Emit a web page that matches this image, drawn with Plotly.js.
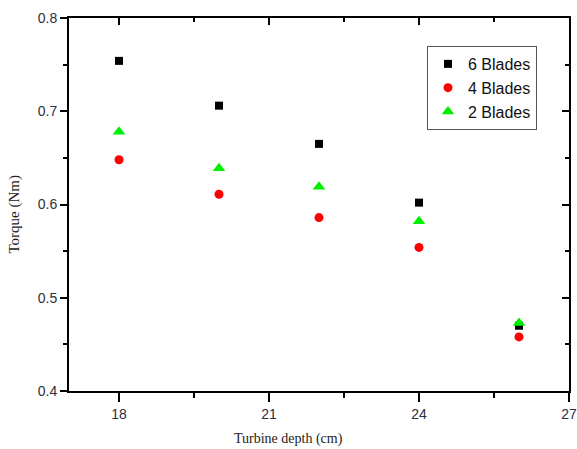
<!DOCTYPE html>
<html>
<head>
<meta charset="utf-8">
<script src="https://cdn.plot.ly/plotly-3.0.1.min.js"></script>
<style>html,body{margin:0;padding:0;background:#fff;}#chart{width:577px;height:449px;}</style>
</head>
<body>
<div id="chart"></div>
<script>
const depth = [18, 20, 22, 24, 26];
const blades6 = [0.754, 0.706, 0.665, 0.602, 0.470];
const blades4 = [0.648, 0.611, 0.586, 0.554, 0.458];
const blades2 = [0.678, 0.639, 0.619, 0.582, 0.473];
const seriesNames = ['6 Blades', '4 Blades', '2 Blades'];
const xTicks = [18, 21, 24, 27];
const yTicks = [0.4, 0.5, 0.6, 0.7, 0.8];
const xTitle = 'Turbine depth (cm)';
const yTitle = 'Torque (Nm)';

const tickFont = {family: 'Liberation Sans, Arial, sans-serif', size: 14, color: '#2e2e3c'};
const titleFont = {family: 'Liberation Serif, Times New Roman, serif', size: 14, color: '#222'};

const traces = [
  {x: depth, y: blades6, name: seriesNames[0], type: 'scatter', mode: 'markers',
   marker: {symbol: 'square', size: 8, color: '#000000'}},
  {x: depth, y: blades4, name: seriesNames[1], type: 'scatter', mode: 'markers',
   marker: {symbol: 'circle', size: 9, color: '#ff0000'}},
  {x: depth, y: blades2, name: seriesNames[2], type: 'scatter', mode: 'markers',
   marker: {symbol: 'triangle-up', size: 11, color: '#00ee00'}},
  {x: depth, y: blades6, xaxis: 'x2', yaxis: 'y2', type: 'scatter', mode: 'markers',
   marker: {opacity: 0}, showlegend: false, hoverinfo: 'skip'}
];

const minorX = [19.5, 22.5, 25.5];
const minorY = [0.45, 0.55, 0.65, 0.75];

const layout = {
  width: 577, height: 449,
  margin: {l: 69, r: 8, t: 18, b: 58},
  paper_bgcolor: '#ffffff', plot_bgcolor: '#ffffff',
  showlegend: true,
  legend: {x: 0.716, y: 0.925, xanchor: 'left', yanchor: 'top',
    bgcolor: '#ffffff', bordercolor: '#555555', borderwidth: 1,
    font: {family: 'Liberation Sans, Arial, sans-serif', size: 16, color: '#111'},
    itemwidth: 30, tracegroupgap: 0},
  xaxis: {range: [17, 27], tickvals: xTicks, ticktext: xTicks.map(String),
    showgrid: false, zeroline: false, showline: true, linecolor: '#000', linewidth: 2,
    ticks: 'outside', ticklen: 9, tickwidth: 2, tickcolor: '#000',
    minor: {tickvals: minorX, ticks: 'outside', ticklen: 5, tickwidth: 2, tickcolor: '#000', showgrid: false},
    tickfont: tickFont},
  yaxis: {range: [0.4, 0.8], tickvals: yTicks, ticktext: yTicks.map(v => v.toFixed(1)),
    showgrid: false, zeroline: false, showline: true, linecolor: '#000', linewidth: 2,
    ticks: 'outside', ticklen: 7, tickwidth: 2, tickcolor: '#000',
    minor: {tickvals: minorY, ticks: 'outside', ticklen: 4, tickwidth: 2, tickcolor: '#000', showgrid: false},
    tickfont: tickFont},
  xaxis2: {overlaying: 'x', side: 'top', anchor: 'y2', range: [17, 27], tickvals: xTicks,
    showticklabels: false, showgrid: false, zeroline: false, showline: true, linecolor: '#000', linewidth: 2,
    ticks: 'inside', ticklen: 7, tickwidth: 2, tickcolor: '#000',
    minor: {tickvals: minorX, ticks: 'inside', ticklen: 4, tickwidth: 2, tickcolor: '#000', showgrid: false}},
  yaxis2: {overlaying: 'y', side: 'right', anchor: 'x2', range: [0.4, 0.8], tickvals: yTicks,
    showticklabels: false, showgrid: false, zeroline: false, showline: true, linecolor: '#000', linewidth: 2,
    ticks: 'inside', ticklen: 7, tickwidth: 2, tickcolor: '#000',
    minor: {tickvals: minorY, ticks: 'inside', ticklen: 4, tickwidth: 2, tickcolor: '#000', showgrid: false}},
  annotations: [
    {text: xTitle, xref: 'paper', yref: 'paper', x: 0.438, y: -0.13, xanchor: 'center', yanchor: 'middle',
     showarrow: false, font: titleFont},
    {text: yTitle, xref: 'paper', yref: 'paper', x: -0.108, y: 0.473, xanchor: 'center', yanchor: 'middle',
     textangle: -90, showarrow: false, font: {family: 'Liberation Serif, Times New Roman, serif', size: 15, color: '#222'}}
  ]
};

Plotly.newPlot('chart', traces, layout, {displayModeBar: false, responsive: false});
</script>
</body>
</html>
